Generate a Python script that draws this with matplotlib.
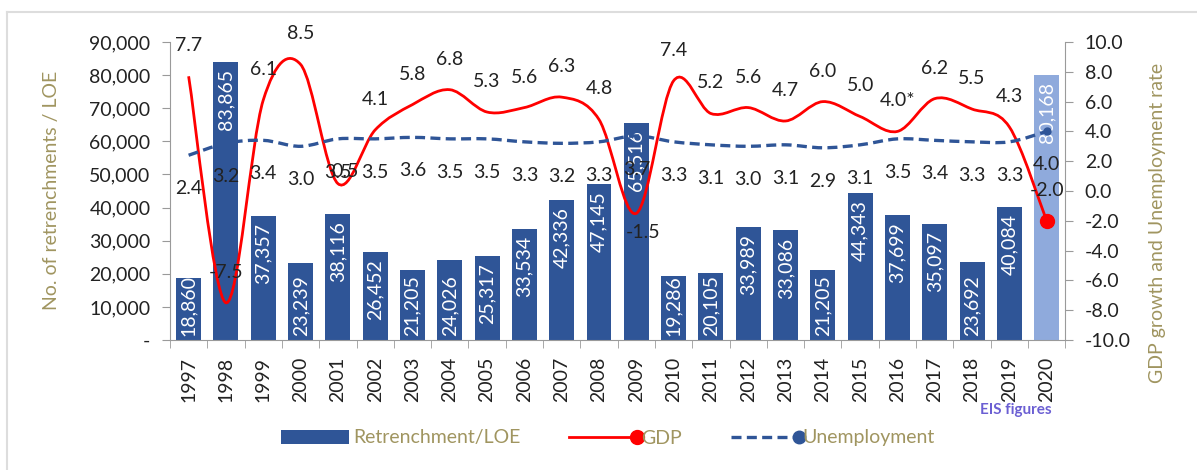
import numpy as np
import matplotlib
matplotlib.use("Agg")
from matplotlib import pyplot as plt
from matplotlib.path import Path
from matplotlib.patches import PathPatch, Patch
from matplotlib.lines import Line2D
from matplotlib.legend_handler import HandlerLine2D

plt.rcParams['font.family'] = ['Lato', 'DejaVu Sans']

years = [str(y) for y in range(1997, 2021)]
retrench = [18860, 83865, 37357, 23239, 38116, 26452, 21205, 24026, 25317, 33534,
            42336, 47145, 65516, 19286, 20105, 33989, 33086, 21205, 44343, 37699,
            35097, 23692, 40084, 80168]
gdp = [7.7, -7.5, 6.1, 8.5, 0.5, 4.1, 5.8, 6.8, 5.3, 5.6, 6.3, 4.8, -1.5, 7.4,
       5.2, 5.6, 4.7, 6.0, 5.0, 4.0, 6.2, 5.5, 4.3, -2.0]
unemp = [2.4, 3.2, 3.4, 3.0, 3.5, 3.5, 3.6, 3.5, 3.5, 3.3, 3.2, 3.3, 3.7, 3.3,
         3.1, 3.0, 3.1, 2.9, 3.1, 3.5, 3.4, 3.3, 3.3, 4.0]
gdp_note = {'2016': '*'}

dark_blue = '#2F5597'
light_blue = '#8FAADC'
olive = '#A09560'
txt = '#222222'
grey = '#9a9a9a'


def smooth_path(xs, ys):
    # excel-like smoothed line: catmull-rom segments as cubic beziers
    pts = np.column_stack([xs, ys]).astype(float)
    verts = [pts[0]]
    codes = [Path.MOVETO]
    n = len(pts)
    for i in range(n - 1):
        p0 = pts[i - 1] if i > 0 else pts[i]
        p1, p2 = pts[i], pts[i + 1]
        p3 = pts[i + 2] if i + 2 < n else p2
        verts += [p1 + (p2 - p0) / 6, p2 - (p3 - p1) / 6, p2]
        codes += [Path.CURVE4] * 3
    return Path(verts, codes)


class EndMarker(HandlerLine2D):
    # legend line with the marker only at its right end
    def create_artists(self, legend, orig, xd, yd, w, h, fs, trans):
        y = h / 2 - yd
        line = Line2D([-xd, -xd + w], [y, y])
        self.update_prop(line, orig, legend)
        line.set_marker('None')
        mk = Line2D([-xd + w], [y])
        self.update_prop(mk, orig, legend)
        mk.set_linestyle('None')
        line.set_transform(trans)
        mk.set_transform(trans)
        return [line, mk]


fig = plt.figure(figsize=(11.97, 4.70), dpi=100)
ax = fig.add_axes([0.142, 0.2766, 0.748, 0.634])
ax2 = ax.twinx()

x = np.arange(len(years))
colors = [dark_blue] * (len(x) - 1) + [light_blue]
bars = ax.bar(x, retrench, width=0.67, color=colors, zorder=2)

for i, (b, v) in enumerate(zip(bars, retrench)):
    if v >= 25000:
        t = ax.annotate(f'{v:,}', (i, v), xytext=(0, -5), textcoords='offset points',
                        ha='center', va='top', rotation=90, color='white', fontsize=14)
    else:
        t = ax.annotate(f'{v:,}', (i, 0), xytext=(0, 3), textcoords='offset points',
                        ha='center', va='bottom', rotation=90, color='white', fontsize=14)
    t.set_clip_path(b)

ax.set_xlim(-0.5, len(x) - 0.5)
ax.set_ylim(0, 90000)
ax.set_yticks(np.arange(0, 90001, 10000))
ax.set_yticklabels(['-' if v == 0 else f'{v:,}' for v in range(0, 90001, 10000)])
ax.set_xticks(x, labels=years, rotation=90)
ax.set_xticks(np.arange(-0.5, len(x), 1), minor=True)
ax.tick_params(axis='x', which='major', length=0, pad=12, labelsize=14, labelcolor=txt)
ax.tick_params(axis='x', which='minor', length=6, color=grey)
ax.tick_params(axis='y', length=6, color=grey, labelsize=14, labelcolor=txt, pad=8)

# GDP and unemployment on the right axis
ax2.set_ylim(-10, 10)
ax2.set_yticks(np.arange(-10, 10.1, 2))
ax2.set_yticklabels([f'{v:.1f}' for v in np.arange(-10, 10.1, 2)])
ax2.tick_params(axis='y', length=6, color=grey, labelsize=14, labelcolor=txt, pad=8)

ax2.add_patch(PathPatch(smooth_path(x, gdp), fill=False, edgecolor='red', lw=2, zorder=3))
ax2.add_patch(PathPatch(smooth_path(x, unemp), fill=False, edgecolor=dark_blue, lw=2.4,
                        linestyle=(0, (3, 1.6)), zorder=3))
ax2.plot(x[-1], gdp[-1], 'o', color='red', ms=10, zorder=4)
ax2.plot(x[-1], unemp[-1], 'o', color=dark_blue, ms=5, zorder=4)

gdp_offsets = {'2001': (5, 9), '2009': (5, -14)}
for i, (yr, v) in enumerate(zip(years, gdp)):
    ax2.annotate(f'{v:.1f}' + gdp_note.get(yr, ''), (i, v),
                 xytext=gdp_offsets.get(yr, (0, 22)), textcoords='offset points',
                 ha='center', va='center', fontsize=14, color=txt, zorder=5)
for i, v in enumerate(unemp):
    ax2.annotate(f'{v:.1f}', (i, v), xytext=(0, -24), textcoords='offset points',
                 ha='center', va='center', fontsize=14, color=txt, zorder=5)

for a in (ax, ax2):
    a.spines['top'].set_visible(False)
    for s in ('left', 'right', 'bottom'):
        a.spines[s].set_color(grey)
ax.spines['right'].set_visible(False)
ax2.spines['left'].set_visible(False)
ax2.spines['bottom'].set_visible(False)

fig.text(52 / 1197, 0.594, 'No. of retrenchments / LOE', rotation=90, ha='center',
         va='center', color=olive, fontsize=14)
fig.text(1157 / 1197, 0.525, 'GDP growth and Unemployment rate', rotation=90,
         ha='center', va='center', color=olive, fontsize=14)
fig.text(1052 / 1197, 1 - 410 / 470, 'EIS figures', ha='right', va='center',
         color='#6B5FD3', fontsize=11, fontweight='bold')

h_bar = Patch(facecolor=dark_blue)
h_gdp = Line2D([], [], color='red', lw=2, marker='o', ms=10)
h_un = Line2D([], [], color=dark_blue, lw=2.4, linestyle=(0, (3, 1.6)), marker='o', ms=9)
fig.legend([h_bar, h_gdp, h_un], ['Retrenchment/LOE', 'GDP', 'Unemployment'], loc='center',
           bbox_to_anchor=(0.508, 1 - 438 / 470), ncol=3, frameon=False, fontsize=14,
           labelcolor=olive, handlelength=3.5, handleheight=0.7,
           handletextpad=0.2, columnspacing=2.5,
           handler_map={h_gdp: EndMarker(), h_un: EndMarker()})

# light frame of the chart area
fig.add_artist(Line2D([7 / 1197, 1], [1 - 12 / 470] * 2, color='#dddddd', lw=1.5))
fig.add_artist(Line2D([7 / 1197] * 2, [0, 1 - 12 / 470], color='#dddddd', lw=1.5))

fig.savefig('out.png', dpi=100)
